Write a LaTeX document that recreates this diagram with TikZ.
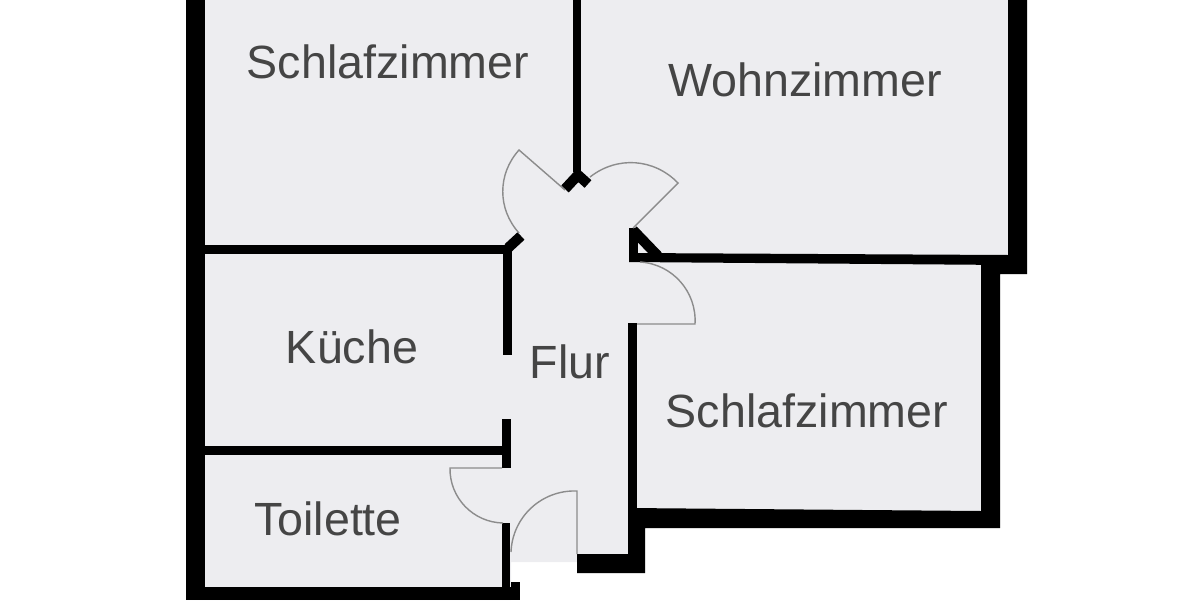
\documentclass[tikz,border=0pt]{standalone}
\usepackage{fontspec}
\setmainfont{Liberation Sans}
\definecolor{floorgray}{HTML}{EDEDF0}
\definecolor{labelgray}{HTML}{454545}
\definecolor{doorgray}{HTML}{8C8C8C}
\tikzset{
  wall/.style={fill=black,draw=none},
  thinwall/.style={draw=black,line width=2.9pt},
  door/.style={draw=doorgray,line width=.4pt},
  roomlabel/.style={text=labelgray,font=\fontsize{13.25}{15}\selectfont,inner sep=0pt},
}
\begin{document}
\begin{tikzpicture}[x=0.01cm,y=-0.01cm]
      \useasboundingbox (0,0) rectangle (1200,600);

      % Sol
      \fill[floorgray] (186,0) -- (1027,0) -- (1027,274) -- (1000,274) -- (1000,528)
      -- (645,528) -- (645,573) -- (577,573) -- (577,562) -- (511,562) -- (511,600)
      -- (186,600) -- cycle;

      % Murs extérieurs
      \fill[wall] (186,0) rectangle (205,600);
      \fill[wall] (186,587) rectangle (511,600);
      \fill[wall] (511,582) rectangle (520,600);
      \fill[wall] (1008,0) -- (1027,0) -- (1027,274) -- (1000,274) -- (1000,528)
      -- (645,528) -- (645,573) -- (577,573) -- (577,554) -- (628,554) -- (628,508)
      -- (981,511) -- (981,264) -- (1008,264) -- cycle;

      % Murs intérieurs
      \fill[wall] (205,245) rectangle (512,254);
      \fill[wall] (205,446) rectangle (511,455);
      \fill[wall] (503,245) rectangle (512,355);
      \fill[wall] (502,419) rectangle (511,468);
      \fill[wall] (502,523) rectangle (510,590);
      \fill[wall] (573,0) rectangle (581,172);
      \fill[wall] (629,253) -- (1008,255) -- (1008,265) -- (629,262) -- cycle;
      \fill[wall] (628,323) rectangle (637,510);
      \fill[wall] (629,228) rectangle (638,262);

      % Retours en biais
      \draw[thinwall] (508,248) -- (521,236);
      \draw[thinwall] (565,189) -- (578,175) -- (588,184);
      \draw[thinwall] (633,230) -- (658,256);

      % Portes
      \coordinate (D1a) at (519,150);
      \coordinate (D1b) at (565,190);
      \coordinate (D1c) at (519,233);
      \draw[door] (D1b) -- (D1a) to[bend right=42] (D1c);
      \coordinate (D2a) at (633,228);
      \coordinate (D2b) at (678,183);
      \coordinate (D2c) at (590,177);
      \draw[door] (D2a) -- (D2b) to[bend right=42] (D2c);
      \coordinate (D3a) at (637,324);
      \coordinate (D3b) at (695,324);
      \coordinate (D3c) at (640,262);
      \draw[door] (D3a) -- (D3b) to[bend right=45] (D3c);
      \coordinate (D4a) at (502,468);
      \coordinate (D4b) at (450,468);
      \coordinate (D4c) at (503,523);
      \draw[door] (D4a) -- (D4b) to[bend right=45] (D4c);
      \coordinate (D5a) at (577,554);
      \coordinate (D5b) at (577,491);
      \coordinate (D5c) at (511,552);
      \draw[door] (D5a) -- (D5b) to[bend right=45] (D5c);

      % Pièces
      \node[roomlabel] (Schlaf1) at (388,62) {Schlafzimmer};
      \node[roomlabel] (Wohn) at (805,80) {Wohnzimmer};
      \node[roomlabel] (Kueche) at (352,347) {Küche};
      \node[roomlabel] (Flur) at (570,362) {Flur};
      \node[roomlabel] (Schlaf2) at (807,411) {Schlafzimmer};
      \node[roomlabel] (Toilette) at (328,519) {Toilette};
\end{tikzpicture}
\end{document}
